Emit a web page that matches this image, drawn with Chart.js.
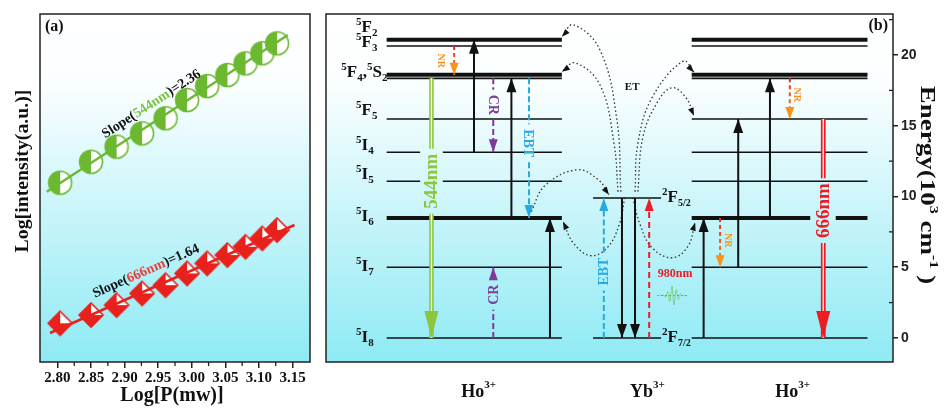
<!DOCTYPE html>
<html>
<head>
<meta charset="utf-8">
<title>Power dependence and energy levels</title>
<script src="https://cdn.jsdelivr.net/npm/chart.js@4.4.1/dist/chart.umd.min.js"></script>
<style>
    body { margin: 0; background: #fff; }
    #figure { position: relative; width: 945px; height: 412px; overflow: hidden; }
    #figure canvas { position: absolute; top: 0; }
    #power_chart { left: 0; }
    #level_chart { left: 323px; }
</style>
</head>
<body>
<div id="figure">
    <canvas id="power_chart" width="323" height="412"></canvas>
    <canvas id="level_chart" width="622" height="412"></canvas>
</div>
<script>
var SERIF = "'Liberation Serif', 'Times New Roman', serif";
var SANS = "'Liberation Sans', Arial, sans-serif";

// (a) log intensity vs log pump power
var logPower = [2.804, 2.850, 2.888, 2.926, 2.961, 2.993, 3.023, 3.053, 3.080, 3.105, 3.127];
var logI544 = [4.063, 4.179, 4.263, 4.337, 4.421, 4.522, 4.600, 4.661, 4.726, 4.782, 4.837];
var logI666 = [3.282, 3.328, 3.383, 3.448, 3.494, 3.559, 3.615, 3.661, 3.707, 3.754, 3.800];
var fitX544 = [2.784, 3.143];
var fitY544 = [4.013, 4.883];
var fitX666 = [2.789, 3.153];
var fitY666 = [3.228, 3.828];
var slopes = ['2.36', '1.64'];
var powerTicks = [2.80, 2.85, 2.90, 2.95, 3.00, 3.05, 3.10, 3.15];

// (b) energy levels, 10^3 cm^-1
var hoNames = ['5I8', '5I7', '5I6', '5I5', '5I4', '5F5', '5S2', '5F4', '5F3', '5F2'];
var hoEnergy = [0, 4.99, 8.48, 11.07, 13.12, 15.48, 18.35, 18.60, 20.64, 21.08];
var ybNames = ['2F7/2', '2F5/2'];
var ybEnergy = [0, 9.89];
var energyTicks = [0, 5, 10, 15, 20];

// transitions (Ho left, Yb, Ho right)
var transFrom = ['5S2', '5F3', '5I4', '5S2', '5I8', '5I6', '5S2', '5I8', '2F7/2', '2F5/2', '2F5/2', '2F7/2', '5I8', '5I6', '5I7', '5I6', '5S2', '5F5'];
var transTo = ['5I8', '5F4', '5F2', '5I4', '5I7', '5S2', '5I6', '5I6', '2F5/2', '2F7/2', '2F7/2', '2F5/2', '5I6', '5I7', '5F5', '5S2', '5F5', '5I8'];
var transType = ['green', 'nr', 'pump', 'cr', 'cr', 'pump', 'ebt', 'pump', 'ebt', 'pump', 'pump', 'laser', 'pump', 'nr', 'pump', 'pump', 'nr', 'red'];
var transLabel = ['544nm', 'NR', '', 'CR', 'CR', '', 'EBT', '', 'EBT', '', '', '980nm', '', 'NR', '', '', 'NR', '666nm'];

// energy transfer paths, [column x, energy]
var etPaths = [
    [[52.0, 10.34], [51.3, 15.43], [48.3, 20.37], [43.6, 22.14], [41.6, 21.29]],
    [[51.5, 10.34], [50.8, 13.73], [48.3, 17.90], [43.9, 19.45], [41.6, 18.82]],
    [[54.5, 10.34], [55.0, 13.73], [57.5, 16.98], [63.0, 19.57], [64.9, 18.79]],
    [[55.0, 10.34], [55.9, 14.22], [58.4, 16.63], [61.0, 17.69], [63.5, 16.98], [64.9, 15.71]],
    [[36.2, 8.93], [38.6, 10.76], [44.3, 11.89], [48.0, 11.19], [49.9, 10.13]],
    [[52.7, 9.92], [51.7, 8.00], [49.6, 6.38], [46.6, 5.82], [43.6, 6.73], [41.8, 8.22]],
    [[54.1, 9.92], [55.4, 8.00], [57.5, 6.38], [61.0, 5.67], [63.8, 6.45], [65.1, 8.15]]
];

// layout of panel (b): x runs 0..100 across the box
var energyMin = -1.7, energyMax = 22.9;
var energyPx = 348 / (energyMax - energyMin);
var colHoL = [10.7, 41.6];
var colYb = [47.1, 59.1];
var colHoR = [64.5, 95.5];
var thickLevels = ['5I6', '5F4', '5F2'];
var gapHoL = {'5I5': [16.6, 20.6], '5I4': [16.6, 20.6]};
var gapHoR = {'5I6': [85.4, 89.9]};
var transX = [18.6, 22.6, 26.1, 29.5, 29.5, 32.7, 35.8, 39.5, 49.0, 52.2, 54.5, 57.0, 66.6, 69.5, 72.7, 78.3, 81.8, 87.7];
var labelAt = [11.08, 19.6, 0, 16.48, 3.06, 0, 13.77, 0, 4.69, 0, 0, 4.6, 0, 6.9, 0, 0, 17.2, 9.0];
var labelDx = [0, -13, 0, 0, 0, 0, 0, 0, 0, 0, 0, 26, 0, 9, 0, 0, 8, 0];
var labelDy = {'5F2': -8, '5F3': 1, '5F5': -4, '5I4': -2, '5I5': -2, '5I6': 3, '5I7': 4, '5I8': 4};

var transStyle = {
    pump:  {color: '#111', width: 2, dash: [], head: [10, 14]},
    green: {color: '#8cc63e', width: 4.5, dash: [], head: [14, 27], hollow: true, size: 19},
    red:   {color: '#ec1c24', width: 4.8, dash: [], head: [14, 27], hollow: true, size: 19},
    ebt:   {color: '#27aae1', width: 2, dash: [6, 3], head: [9, 13], size: 14},
    cr:    {color: '#7d3c98', width: 2, dash: [6, 3], head: [9, 13], size: 14},
    nr:    {color: '#f26b24', width: 2, dash: [4, 3], head: [9, 12], headColor: '#f7941d', size: 10, labelColor: '#f7941d'},
    laser: {color: '#ec1c24', width: 2, dash: [6, 4], head: [9, 13], size: 12}
};

function lvl(name) {
    var i = hoNames.indexOf(name);
    if (i >= 0) return hoEnergy[i];
    return ybEnergy[ybNames.indexOf(name)];
}

function part(text, size, dy, color) {
    return {text: text, font: 'bold ' + size + 'px ' + SERIF, dy: dy || 0, color: color || '#111'};
}

function term(name) {
    return [part(name.charAt(0), 11, -7), part(name.charAt(1), 17, 0), part(name.slice(2), name.length > 3 ? 10 : 11, 4)];
}

function drawRich(ctx, parts, x, y, align) {
    var w = 0;
    parts.forEach(function (p) { ctx.font = p.font; w += ctx.measureText(p.text).width; });
    var cx = align === 'center' ? x - w / 2 : (align === 'right' ? x - w : x);
    ctx.textAlign = 'left';
    ctx.textBaseline = 'alphabetic';
    parts.forEach(function (p) {
        ctx.font = p.font;
        ctx.fillStyle = p.color;
        ctx.fillText(p.text, cx, y + p.dy);
        cx += ctx.measureText(p.text).width;
    });
}

function paintBackground(chart) {
    var ctx = chart.ctx, a = chart.chartArea;
    var g = ctx.createLinearGradient(0, a.top, 0, a.bottom);
    g.addColorStop(0, '#ffffff');
    g.addColorStop(0.2, '#fbfeff');
    g.addColorStop(1, '#8eeaf4');
    ctx.save();
    ctx.fillStyle = g;
    ctx.fillRect(a.left, a.top, a.right - a.left, a.bottom - a.top);
    ctx.restore();
}

function frame(chart) {
    var ctx = chart.ctx, a = chart.chartArea;
    ctx.save();
    ctx.strokeStyle = '#222';
    ctx.lineWidth = 1.5;
    ctx.strokeRect(a.left, a.top, a.right - a.left, a.bottom - a.top);
    ctx.restore();
}

function arrowHead(ctx, x, y, ang, w, l, color) {
    ctx.save();
    ctx.translate(x, y);
    ctx.rotate(ang);
    ctx.beginPath();
    ctx.moveTo(0, 0);
    ctx.lineTo(-l, -w / 2);
    ctx.lineTo(-l, w / 2);
    ctx.closePath();
    ctx.fillStyle = color;
    ctx.fill();
    ctx.restore();
}

function makeMarker(kind, color) {
    var c = document.createElement('canvas');
    c.width = 28;
    c.height = 28;
    var g = c.getContext('2d');
    g.beginPath();
    if (kind === 'circle') {
        g.arc(14, 14, 11.5, 0, Math.PI * 2);
    } else {
        g.moveTo(14, 2); g.lineTo(26, 14); g.lineTo(14, 26); g.lineTo(2, 14); g.closePath();
    }
    g.fillStyle = '#ffffff';
    g.fill();
    g.save();
    g.clip();
    g.fillStyle = color;
    g.fillRect(0, 0, 14, 28);
    if (kind === 'diamond') g.fillRect(14, 14, 14, 14);
    g.restore();
    g.lineWidth = 1.6;
    g.strokeStyle = color;
    g.stroke();
    return c;
}

// ---------- panel (a)
var GREEN = '#6cb931', RED = '#e8211c';

var panelA = {
    id: 'panelA',
    beforeDraw: paintBackground,
    afterDraw: function (chart) {
        var ctx = chart.ctx, a = chart.chartArea, sx = chart.scales.x, sy = chart.scales.y;
        frame(chart);
        ctx.save();
        // minor ticks
        ctx.strokeStyle = '#222';
        ctx.lineWidth = 1.3;
        for (var i = 0; i < powerTicks.length - 1; i++) {
            var mx = sx.getPixelForValue((powerTicks[i] + powerTicks[i + 1]) / 2);
            ctx.beginPath();
            ctx.moveTo(mx, a.bottom);
            ctx.lineTo(mx, a.bottom + 4);
            ctx.stroke();
        }
        ctx.fillStyle = '#111';
        ctx.font = 'bold 16px ' + SERIF;
        ctx.textAlign = 'left';
        ctx.textBaseline = 'alphabetic';
        ctx.fillText('(a)', a.left + 5, a.top + 17);

        ctx.font = 'bold 20px ' + SERIF;
        ctx.textAlign = 'center';
        ctx.fillText('Log[P(mw)]', a.left + 132, 401);

        ctx.save();
        ctx.translate(23, 171);
        ctx.rotate(-Math.PI / 2);
        ctx.scale(1.1, 1);
        ctx.font = 'bold 18px ' + SERIF;
        ctx.textBaseline = 'middle';
        ctx.fillText('Log[intensity(a.u.)]', 0, 0);
        ctx.restore();

        // slope labels along the fitted lines
        var notes = [
            {fx: fitX544, fy: fitY544, at: [2.939, 4.506], name: '544nm', color: '#7cc242', slope: slopes[0]},
            {fx: fitX666, fy: fitY666, at: [2.931, 3.578], name: '666nm', color: '#e8413c', slope: slopes[1]}
        ];
        notes.forEach(function (n) {
            var ang = Math.atan2(sy.getPixelForValue(n.fy[1]) - sy.getPixelForValue(n.fy[0]),
                sx.getPixelForValue(n.fx[1]) - sx.getPixelForValue(n.fx[0]));
            ctx.save();
            ctx.translate(sx.getPixelForValue(n.at[0]), sy.getPixelForValue(n.at[1]));
            ctx.rotate(ang);
            drawRich(ctx, [part('Slope(', 14), part(n.name, 14, 0, n.color), part(')=' + n.slope, 14)], 0, 5, 'center');
            ctx.restore();
        });
        ctx.restore();
    }
};

function pairs(xs, ys) {
    return xs.map(function (x, i) { return {x: x, y: ys[i]}; });
}

new Chart(document.getElementById('power_chart'), {
    type: 'scatter',
    data: {
        datasets: [{
            data: pairs(fitX544, fitY544),
            showLine: true,
            borderColor: GREEN,
            borderWidth: 2.5,
            pointRadius: 0,
            order: 0
        },
        {
            data: pairs(fitX666, fitY666),
            showLine: true,
            borderColor: RED,
            borderWidth: 2.5,
            pointRadius: 0,
            order: 0
        },
        {
            data: pairs(logPower, logI544),
            pointStyle: makeMarker('circle', GREEN),
            pointRadius: 12,
            order: 1
        },
        {
            data: pairs(logPower, logI666),
            pointStyle: makeMarker('diamond', RED),
            pointRadius: 12,
            order: 1
        }]
    },
    options: {
        responsive: false,
        devicePixelRatio: 1,
        animation: false,
        layout: { padding: { left: 14, right: 2, top: 14, bottom: 9 } },
        plugins: { legend: { display: false }, tooltip: { enabled: false } },
        scales: {
            x: {
                type: 'linear',
                min: 2.774,
                max: 3.176,
                afterBuildTicks: function (s) { s.ticks = powerTicks.map(function (v) { return {value: v}; }); },
                afterFit: function (s) { s.height = 41; },
                ticks: {
                    autoSkip: false,
                    maxRotation: 0,
                    padding: 3,
                    color: '#111',
                    font: { family: SERIF, size: 15, weight: 'bold', lineHeight: 1 },
                    callback: function (v) { return Number(v).toFixed(2); }
                },
                grid: { drawOnChartArea: false, drawTicks: true, tickLength: 6, color: '#222', lineWidth: 1.5 },
                border: { display: false }
            },
            y: {
                min: 3.067,
                max: 5.0,
                afterFit: function (s) { s.width = 26; },
                ticks: { display: false },
                grid: { display: false },
                border: { display: false }
            }
        }
    },
    plugins: [panelA]
});

// ---------- panel (b)
var datasetsB = [];

function addLevel(col, e, width, gap) {
    var d = [{x: col[0], y: e}];
    if (gap) d.push({x: gap[0], y: e}, {x: gap[0], y: null}, {x: gap[1], y: e});
    d.push({x: col[1], y: e});
    datasetsB.push({data: d, showLine: true, borderColor: '#111', borderWidth: width, pointRadius: 0, order: 5});
}

hoNames.forEach(function (n, i) {
    var w = thickLevels.indexOf(n) >= 0 ? 4 : (n === '5S2' ? 1.8 : 1.5);
    addLevel(colHoL, hoEnergy[i], w, gapHoL[n]);
    addLevel(colHoR, hoEnergy[i], w, gapHoR[n]);
});
ybNames.forEach(function (n, i) {
    addLevel(colYb, ybEnergy[i], 1.5);
});

var measure = document.createElement('canvas').getContext('2d');

function labelRot(i) {
    var t = transType[i];
    if (t === 'green' || t === 'red') return -90;
    if (t === 'laser') return 0;
    return lvl(transFrom[i]) > lvl(transTo[i]) ? 90 : -90;
}

function nrGradient(top, bottom) {
    return function (c) {
        var ch = c.chart;
        if (!ch.chartArea || !ch.scales.y) return '#f26b24';
        var g = ch.ctx.createLinearGradient(0, ch.scales.y.getPixelForValue(top), 0, ch.scales.y.getPixelForValue(bottom));
        g.addColorStop(0, '#e8232a');
        g.addColorStop(1, '#f7941d');
        return g;
    };
}

transFrom.forEach(function (f, i) {
    var st = transStyle[transType[i]];
    var e0 = lvl(f), e1 = lvl(transTo[i]), x = transX[i];
    var pts = [{x: x, y: e0}];
    if (transLabel[i] && labelDx[i] === 0) {
        measure.font = 'bold ' + st.size + 'px ' + SERIF;
        var half = (measure.measureText(transLabel[i]).width / 2 + 5) / energyPx;
        var dir = e1 > e0 ? 1 : -1;
        pts.push({x: x, y: labelAt[i] - dir * half}, {x: x, y: null}, {x: x, y: labelAt[i] + dir * half});
    }
    pts.push({x: x, y: e1});
    datasetsB.push({
        data: pts,
        showLine: true,
        borderColor: transType[i] === 'nr' ? nrGradient(e0, e1) : st.color,
        borderWidth: st.width,
        borderDash: st.dash,
        pointRadius: 0,
        order: 1,
        head: st.head,
        headColor: st.headColor || st.color
    });
    if (st.hollow) {
        datasetsB.push({data: pts, showLine: true, borderColor: '#ffffff', borderWidth: 1.3, pointRadius: 0, order: 0});
    }
});

etPaths.forEach(function (p) {
    datasetsB.push({
        data: p.map(function (q) { return {x: q[0], y: q[1]}; }),
        showLine: true,
        tension: 0.4,
        borderColor: '#333',
        borderWidth: 1.3,
        borderDash: [1.5, 2.5],
        pointRadius: 0,
        order: 3,
        head: [6, 8],
        headColor: '#111'
    });
});

var panelB = {
    id: 'panelB',
    beforeDraw: paintBackground,
    afterDatasetsDraw: function (chart) {
        var ctx = chart.ctx;
        chart.data.datasets.forEach(function (ds, i) {
            if (!ds.head) return;
            var pts = chart.getDatasetMeta(i).data;
            var p = pts[pts.length - 1];
            var q = ds.tension ? {x: p.cp1x, y: p.cp1y} : pts[pts.length - 2];
            if (!q || (q.x === p.x && q.y === p.y)) q = pts[pts.length - 2];
            arrowHead(ctx, p.x, p.y, Math.atan2(p.y - q.y, p.x - q.x), ds.head[0], ds.head[1], ds.headColor);
        });
    },
    afterDraw: function (chart) {
        var ctx = chart.ctx, a = chart.chartArea, sx = chart.scales.x, sy = chart.scales.y;
        frame(chart);
        ctx.save();

        // minor ticks point inwards
        ctx.strokeStyle = '#222';
        ctx.lineWidth = 1.3;
        for (var i = 0; i < energyTicks.length; i++) {
            var mv = energyTicks[i] + 2.5;
            if (mv > energyMax) continue;
            var my = sy.getPixelForValue(mv);
            ctx.beginPath();
            ctx.moveTo(a.right, my);
            ctx.lineTo(a.right - 4, my);
            ctx.stroke();
        }

        // level names
        var lx = sx.getPixelForValue(5.3);
        hoNames.forEach(function (n, i) {
            if (n === '5F4' || n === '5S2') return;
            drawRich(ctx, term(n), lx, sy.getPixelForValue(hoEnergy[i]) + labelDy[n], 'left');
        });
        drawRich(ctx, term('5F4').concat([part(',', 17)]).concat(term('5S2')),
            sx.getPixelForValue(2.7), sy.getPixelForValue(lvl('5F4')) + 2, 'left');
        ybNames.forEach(function (n, i) {
            drawRich(ctx, term(n), sx.getPixelForValue(colYb[1]) + 1, sy.getPixelForValue(ybEnergy[i]) + 4, 'left');
        });

        // transition labels
        transLabel.forEach(function (t, i) {
            if (!t) return;
            var st = transStyle[transType[i]];
            ctx.save();
            ctx.translate(sx.getPixelForValue(transX[i]) + labelDx[i], sy.getPixelForValue(labelAt[i]));
            ctx.rotate(labelRot(i) * Math.PI / 180);
            ctx.font = 'bold ' + st.size + 'px ' + SERIF;
            ctx.fillStyle = st.labelColor || st.color;
            ctx.textAlign = 'center';
            ctx.textBaseline = 'middle';
            ctx.fillText(t, 0, 1);
            ctx.restore();
        });

        ctx.fillStyle = '#111';
        ctx.font = 'bold 11px ' + SERIF;
        ctx.textAlign = 'center';
        ctx.textBaseline = 'middle';
        ctx.fillText('ET', sx.getPixelForValue(54.0), sy.getPixelForValue(17.76));

        // 980 nm photon
        var wx = sx.getPixelForValue(61.2), wy = sy.getPixelForValue(3.0);
        ctx.lineWidth = 1;
        ctx.strokeStyle = 'rgba(120, 200, 110, 0.8)';
        ctx.beginPath();
        for (var k = -15; k <= 15; k++) {
            var env = Math.exp(-k * k / 40);
            var px = wx + k * 0.9, py = wy + Math.sin(k * 1.3) * 10 * env;
            if (k === -15) ctx.moveTo(px, py); else ctx.lineTo(px, py);
        }
        ctx.stroke();
        ctx.strokeStyle = 'rgba(236, 80, 80, 0.7)';
        ctx.setLineDash([2, 2]);
        ctx.beginPath();
        ctx.moveTo(wx - 16, wy);
        ctx.lineTo(wx + 16, wy);
        ctx.stroke();
        ctx.setLineDash([]);

        // ion labels under the box
        var ions = [['Ho', 26.9], ['Yb', 56.7], ['Ho', 82.3]];
        ions.forEach(function (ion) {
            drawRich(ctx, [part(ion[0], 18), part('3+', 11, -9)], sx.getPixelForValue(ion[1]), a.bottom + 35, 'center');
        });

        ctx.fillStyle = '#111';
        ctx.font = 'bold 16px ' + SERIF;
        ctx.textAlign = 'right';
        ctx.textBaseline = 'alphabetic';
        ctx.fillText('(b)', a.right - 5, a.top + 16);

        // energy axis title
        ctx.save();
        ctx.translate(a.right + 34, (a.top + a.bottom) / 2 - 3);
        ctx.rotate(Math.PI / 2);
        ctx.scale(1.35, 1);
        drawRich(ctx, [part('Energy(10', 20), part('3', 12, -9), part(' cm', 20), part('-1', 12, -9), part(' )', 20)], 0, 6, 'center');
        ctx.restore();

        ctx.restore();
    }
};

new Chart(document.getElementById('level_chart'), {
    type: 'scatter',
    data: { datasets: datasetsB },
    options: {
        responsive: false,
        devicePixelRatio: 1,
        animation: false,
        layout: { padding: { left: 3, right: 0, top: 14, bottom: 50 } },
        plugins: { legend: { display: false }, tooltip: { enabled: false } },
        scales: {
            x: { type: 'linear', min: 0, max: 100, display: false },
            y: {
                position: 'right',
                min: energyMin,
                max: energyMax,
                afterBuildTicks: function (s) { s.ticks = energyTicks.map(function (v) { return {value: v}; }); },
                afterFit: function (s) { s.width = 52; },
                ticks: {
                    padding: 3,
                    color: '#222',
                    font: { family: SANS, size: 14, weight: 'bold', lineHeight: 1 }
                },
                grid: { drawOnChartArea: false, drawTicks: true, tickLength: 5, color: '#222', lineWidth: 1.5 },
                border: { display: false }
            }
        }
    },
    plugins: [panelB]
});
</script>
</body>
</html>
